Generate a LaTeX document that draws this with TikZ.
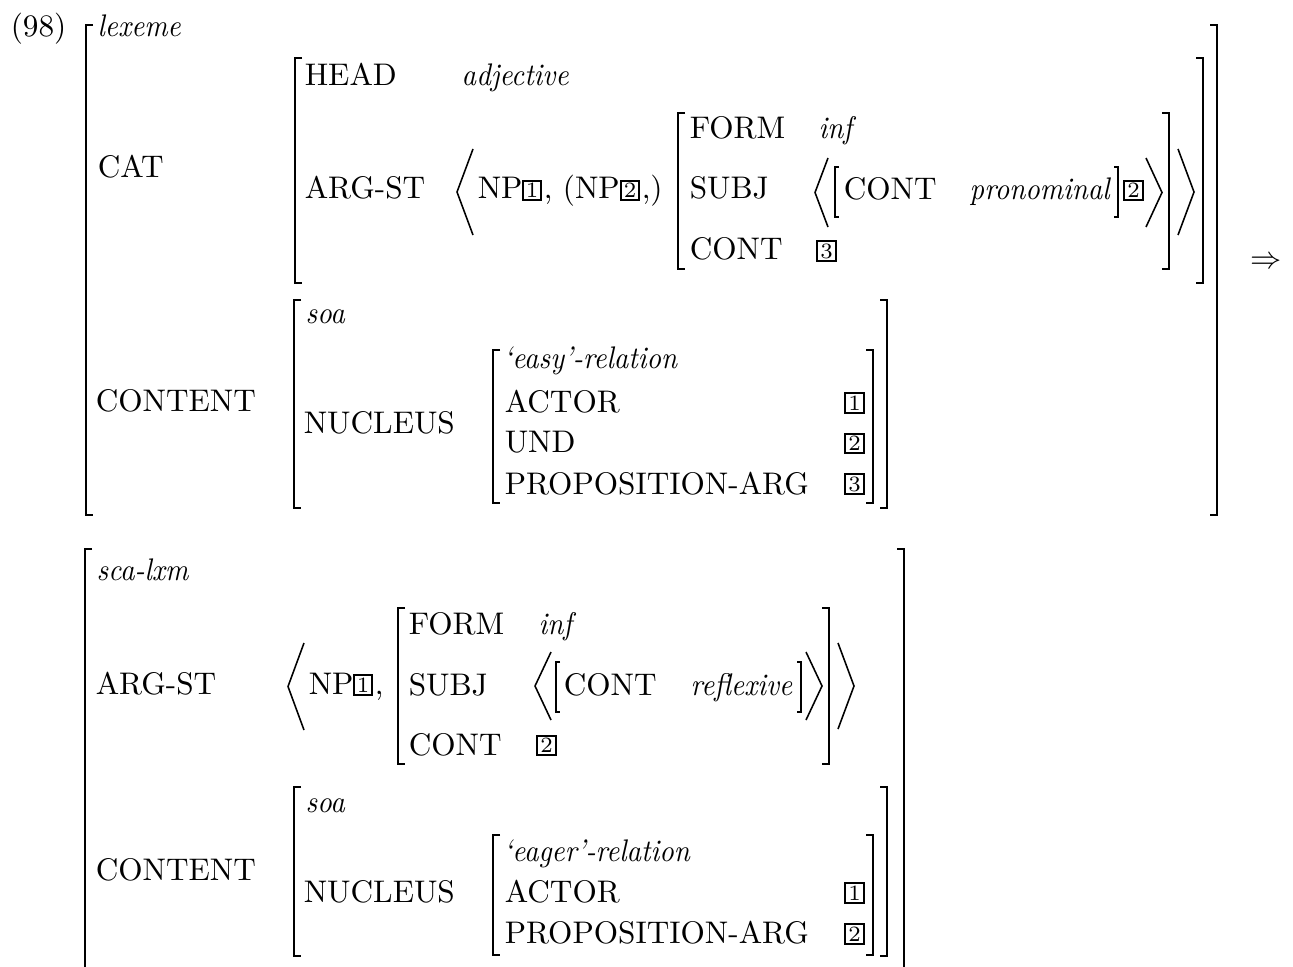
\documentclass[tikz,border=0pt]{standalone}
\usepackage{amsmath,amssymb}
\begin{document}
\begin{tikzpicture}[x=.32pt,y=-.32pt,line width=.5pt,
  lab/.style={anchor=base west,inner sep=0pt},
  typ/.style={anchor=base west,inner sep=0pt,font=\itshape,xscale=.91,transform shape},
  tag/.style={draw,line width=.7pt,inner sep=0pt,minimum width=6pt,minimum height=6.3pt,font=\scriptsize},
  brk/.style={line width=.65pt},
  pbrk/.style={line width=.45pt},
  ang/.style={line width=.5pt}]
\useasboundingbox (0,0) rectangle (1293,966);
\clip (0,0) rectangle (1293,966);
% Structure lexeme : crochets externes, CAT et FORM.
\node[lab] (num) at (10,37) {(98)};
\draw[brk] (93,25) -| (86,515) -- (93,515);
\draw[brk] (1210,25) -| (1217,515) -- (1210,515);
\node[typ] (lexeme) at (97,37) {lexeme};
\node[lab] (cat) at (97,178) {CAT};
\draw[brk] (302,58) -| (295,283) -- (302,283);
\draw[brk] (1196,58) -| (1203,283) -- (1196,283);
\node[lab] (head) at (304,86) {HEAD};
\node[typ] (adj) at (461,86) {adjective};
\node[lab] (argst) at (304,199) {ARG-ST};
\draw[ang] (473,149) -- (457,192) -- (473,235);
\node[lab] (npa) at (477,199) {NP};
\node[tag] (tnpa) at (532,190.5) {1};
\node[lab] (opt) at (543,199) {, (NP};
\node[tag] (topt) at (630,190.5) {2};
\node[lab] (optend) at (641,199) {,)};
\draw[brk] (685,113) -| (678,269) -- (685,269);
\draw[brk] (1162,113) -| (1169,269) -- (1162,269);
\node[lab] (form) at (689,139) {FORM};
\node[typ] (inf) at (818,139) {inf};
\node[lab] (subj) at (689,199) {SUBJ};
\draw[ang] (828,158) -- (815,192.5) -- (828,227);
\draw[pbrk] (839,167) -| (835,217) -- (839,217);
\node[lab] (conts) at (843,200) {CONT};
\node[typ] (pron) at (969,200) {pronominal};
\draw[pbrk] (1114,167) -| (1118,217) -- (1114,217);
\node[tag] (tpron) at (1133.5,190.5) {2};
\draw[ang] (1146,158) -- (1162,192.5) -- (1146,227);
\node[lab] (contv) at (689,260) {CONT};
\node[tag] (tcontv) at (826.5,251) {3};
\draw[ang] (1178,149) -- (1194,192) -- (1178,235);
% Contenu : soa et la relation 'easy'.
\node[lab] (content) at (95,411) {CONTENT};
\draw[brk] (301,300) -| (294,508) -- (301,508);
\draw[brk] (880,300) -| (887,508) -- (880,508);
\node[typ] (soa) at (305,323) {soa};
\node[lab] (nucleus) at (303,433) {NUCLEUS};
\draw[brk] (500,350) -| (493,503) -- (500,503);
\draw[brk] (866,350) -| (873,503) -- (866,503);
\node[typ] (easy) at (503,368) {`easy'-relation};
\node[lab] (actor) at (504,412) {ACTOR};
\node[tag] (tactor) at (854.5,403) {1};
\node[lab] (und) at (504,452) {UND};
\node[tag] (tund) at (854.5,443.5) {2};
\node[lab] (prop) at (504,494) {PROPOSITION-ARG};
\node[tag] (tprop) at (854.5,484) {3};
\node (arrow) at (1266,263) {$\Rightarrow$};
% Structure sca-lxm, coupee en bas.
\draw[brk] (92,549) -| (85,1000);
\draw[brk] (897,549) -| (904,1000);
\node[typ] (sca) at (96,580) {sca-lxm};
\node[lab] (argstb) at (95,694) {ARG-ST};
\draw[ang] (304,643) -- (288,686.5) -- (304,730);
\node[lab] (npb) at (308,694) {NP};
\node[tag] (tnpb) at (363,685) {1};
\node[lab] (comma) at (374,694) {,};
\draw[brk] (405,608) -| (398,764) -- (405,764);
\draw[brk] (822,608) -| (829,764) -- (822,764);
\node[lab] (formb) at (408,634) {FORM};
\node[typ] (infb) at (538,634) {inf};
\node[lab] (subjb) at (408,695) {SUBJ};
\draw[ang] (551,652) -- (535,686) -- (551,720);
\draw[pbrk] (560,662) -| (556,712) -- (560,712);
\node[lab] (contr) at (563,695) {CONT};
\node[typ] (refl) at (690,695) {reflexive};
\draw[pbrk] (797,662) -| (801,712) -- (797,712);
\draw[ang] (806,652) -- (822,686) -- (806,720);
\node[lab] (contvb) at (408,755) {CONT};
\node[tag] (tcontvb) at (546.5,745.5) {2};
\draw[ang] (838,643) -- (854,686) -- (838,729);
\node[lab] (contentb) at (95,880) {CONTENT};
\draw[brk] (301,787) -| (294,956) -- (301,956);
\draw[brk] (880,787) -| (887,956) -- (880,956);
\node[typ] (soab) at (305,812) {soa};
\node[lab] (nucleusb) at (303,902) {NUCLEUS};
\draw[brk] (500,835) -| (493,955) -- (500,955);
\draw[brk] (866,835) -| (873,955) -- (866,955);
\node[typ] (eager) at (503,861) {`eager'-relation};
\node[lab] (actorb) at (504,902) {ACTOR};
\node[tag] (tactorb) at (854.5,893) {1};
\node[lab] (propb) at (504,943) {PROPOSITION-ARG};
\node[tag] (tpropb) at (854.5,934) {2};
\end{tikzpicture}
\end{document}
